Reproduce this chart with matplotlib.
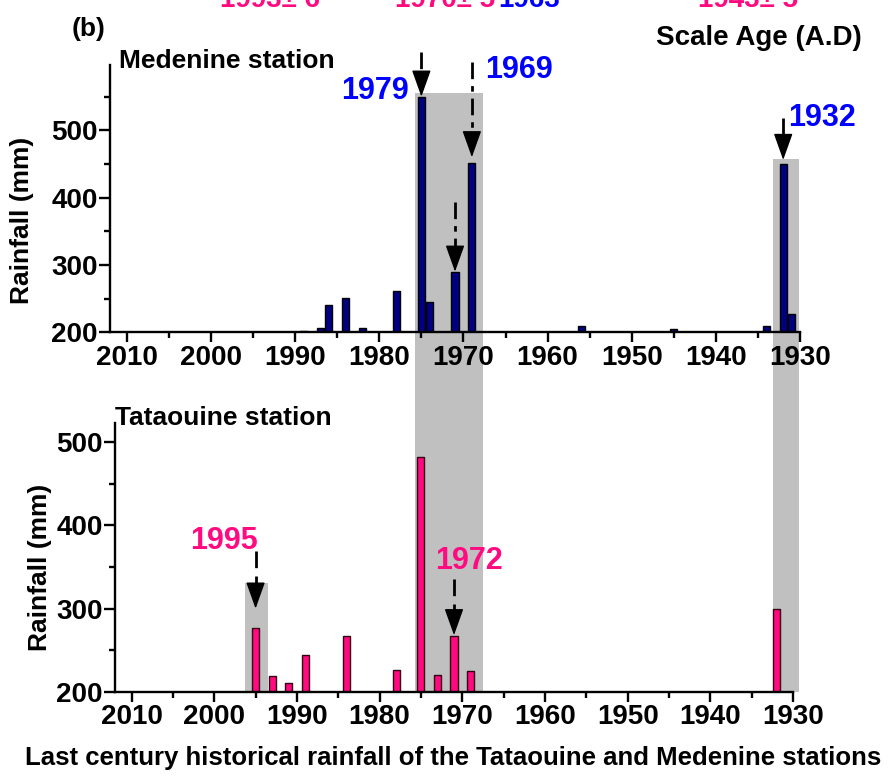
import matplotlib
matplotlib.use("Agg")
import matplotlib.pyplot as plt
from matplotlib.patches import Rectangle
from matplotlib.ticker import MultipleLocator

plt.rcParams['font.family'] = ['Liberation Sans', 'DejaVu Sans']
plt.rcParams['font.weight'] = 'bold'

# Medenine station (top panel)
med_years = [1989, 1987, 1986, 1984, 1982, 1978, 1975, 1974, 1971, 1969, 1956, 1945, 1934, 1932, 1931]
med_rain = [202, 207, 241, 251, 206, 261, 550, 245, 290, 452, 210, 205, 210, 450, 227]

# Tataouine station (bottom panel)
tat_years = [1995, 1993, 1991, 1989, 1984, 1978, 1975, 1973, 1971, 1969, 1932]
tat_rain = [277, 219, 210, 244, 267, 226, 482, 220, 267, 225, 300]

year_ticks = list(range(2010, 1929, -10))

blue = '#0000ff'
pink = '#ff0a80'
grey = '#c0c0c0'

fig = plt.figure(figsize=(8.91, 7.82), dpi=100)
ax1 = fig.add_axes([0.1235, 0.5751, 0.7744, 0.3418])
ax2 = fig.add_axes([0.1291, 0.1155, 0.7609, 0.3432])

for ax, ylim in ((ax1, (200, 597)), (ax2, (200, 523))):
    ax.set_xlim(2012, 1930)
    ax.set_ylim(*ylim)
    ax.patch.set_visible(False)
    ax.spines['top'].set_visible(False)
    ax.spines['right'].set_visible(False)
    ax.spines['left'].set_linewidth(1.7)
    ax.spines['bottom'].set_linewidth(1.7)
    ax.set_xticks(year_ticks)
    ax.xaxis.set_minor_locator(MultipleLocator(5))
    ax.yaxis.set_major_locator(MultipleLocator(100))
    ax.yaxis.set_minor_locator(MultipleLocator(50))
    ax.tick_params(axis='x', which='major', length=7, width=1.7, labelsize=20, pad=2)
    ax.tick_params(axis='x', which='minor', length=4, width=1.7)
    ax.tick_params(axis='y', which='major', length=8, width=1.7, labelsize=20, pad=1)
    ax.tick_params(axis='y', which='minor', length=4, width=1.7)

ax1.bar(med_years, [v - 200 for v in med_rain], bottom=200, width=0.85,
        color='#000080', edgecolor='black', linewidth=1, zorder=2)
ax2.bar(tat_years, [v - 200 for v in tat_rain], bottom=200, width=0.85,
        color=pink, edgecolor='#300010', linewidth=1, zorder=2)

# grey bands running through both panels
to_fig = fig.transFigure.inverted()
for (x0, x1), top in [((1975.75, 1967.7), 556), ((1933.2, 1930.1), 457)]:
    fx0, fy1 = to_fig.transform(ax1.transData.transform((x0, top)))
    fx1, _ = to_fig.transform(ax1.transData.transform((x1, top)))
    _, fy0 = to_fig.transform(ax2.transData.transform((x0, 200)))
    fig.add_artist(Rectangle((fx0, fy0), fx1 - fx0, fy1 - fy0, transform=fig.transFigure,
                             facecolor=grey, edgecolor='none', zorder=-1))
ax2.add_patch(Rectangle((1996.3, 200), 1993.5 - 1996.3, 131, facecolor=grey,
                        edgecolor='none', zorder=0))

HEAD_PX = 23  # arrow head length in pixels


def arrow(ax, x, y0, y1, ls):
    # head length converted to data units of this axes
    px_per_unit = ax.transData.transform((0, 1))[1] - ax.transData.transform((0, 0))[1]
    ybase = y1 + HEAD_PX / px_per_unit
    ax.plot([x, x], [y0, ybase], color='black', lw=2, linestyle=ls, clip_on=False,
            solid_capstyle='butt', dash_capstyle='butt', zorder=4)
    ax.annotate('', xy=(x, y1), xytext=(x, ybase), annotation_clip=False,
                arrowprops=dict(arrowstyle='-|>,head_length=1.4,head_width=0.5',
                                mutation_scale=12, lw=1, color='black',
                                shrinkA=0, shrinkB=0))


dash = (0, (6, 3))
dashdot = (0, (6, 2.5, 2, 2.5))
arrow(ax1, 1975, 616, 550, dash)
arrow(ax1, 1969, 601, 460, dashdot)
arrow(ax1, 1971, 393, 290, dashdot)
arrow(ax1, 1932, 518, 456, '-')
arrow(ax2, 1995, 369, 300, dash)
arrow(ax2, 1971, 336, 268, dash)

ax1.text(1976.5, 546, '1979', color=blue, fontsize=22, ha='right', va='baseline')
ax1.text(1967.4, 578, '1969', color=blue, fontsize=22, ha='left', va='baseline')
ax1.text(1931.4, 506, '1932', color=blue, fontsize=22, ha='left', va='baseline')
ax2.text(2002.9, 372, '1995', color=pink, fontsize=22, ha='left', va='baseline')
ax2.text(1973.3, 348, '1972', color=pink, fontsize=22, ha='left', va='baseline')

fig.text(0.1336, 0.9127, 'Medenine station', fontsize=19, ha='left', va='baseline')
fig.text(0.129, 0.4565, 'Tataouine station', fontsize=19, ha='left', va='baseline')
fig.text(0.099, 0.954, '(b)', fontsize=19, ha='center', va='baseline')
fig.text(0.9675, 0.9425, 'Scale Age (A.D)', fontsize=20, ha='right', va='baseline')

fig.text(0.0247, 0.7187, 'Rainfall (mm)', fontsize=19, rotation=90, ha='center', va='center')
fig.text(0.0449, 0.2743, 'Rainfall (mm)', fontsize=19, rotation=90, ha='center', va='center')

# dates of panel (a), cut by the top edge as in the source figure
fig.text(0.247, 0.991, '1993± 6', color=pink, fontsize=20, ha='left', va='baseline')
fig.text(0.4433, 0.991, '1970± 5', color=pink, fontsize=20, ha='left', va='baseline')
fig.text(0.559, 0.991, '1963', color=blue, fontsize=20, ha='left', va='baseline')
fig.text(0.7834, 0.991, '1943± 5', color=pink, fontsize=20, ha='left', va='baseline')

fig.text(0.5084, 0.0215, 'Last century historical rainfall of the Tataouine and Medenine stations',
         fontsize=18.5, ha='center', va='baseline')

fig.savefig('out.png', dpi=100)
